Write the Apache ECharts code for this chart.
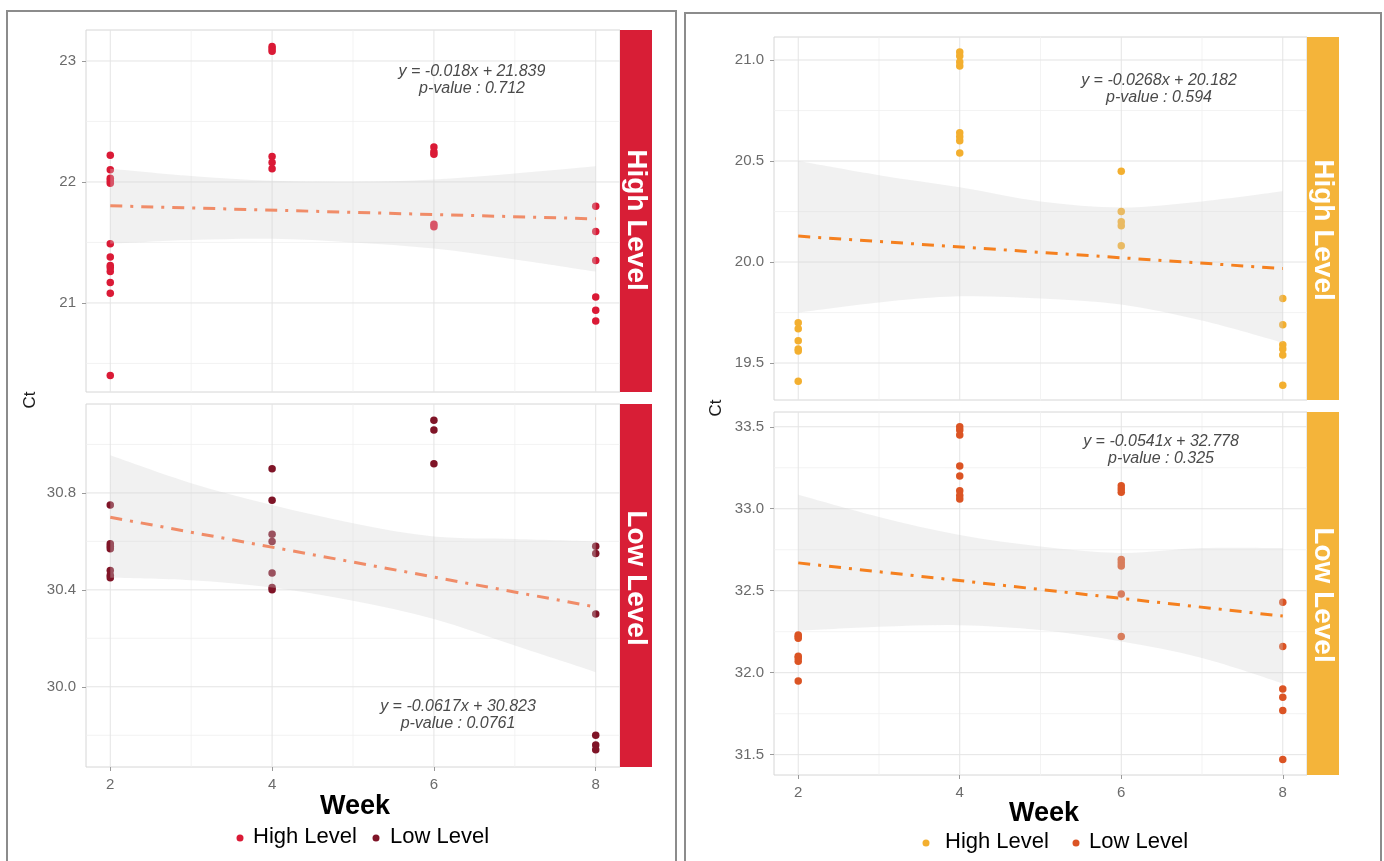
<!DOCTYPE html>
<html>
<head>
<meta charset="utf-8">
<script src="https://cdn.jsdelivr.net/npm/echarts@6/dist/echarts.min.js"></script>
<style>html,body{margin:0;padding:0;background:#fff}#c{width:1384px;height:861px}</style>
</head>
<body>
<div id="c"></div>
<script>
// ---------------- DATA ----------------
const weeks = [2, 4, 6, 8];
const bandX = [2, 3, 4, 5, 6, 7, 8];

// Left panel, High Level facet (Ct by week)
const leftHigh = {
  2: [22.22, 22.10, 22.03, 22.01, 21.99, 21.49, 21.38, 21.31, 21.29, 21.26, 21.17, 21.08, 20.40],
  4: [23.12, 23.10, 23.08, 22.21, 22.16, 22.11],
  6: [22.29, 22.25, 22.23, 21.65, 21.63],
  8: [21.80, 21.59, 21.35, 21.05, 20.94, 20.85]
};
// Left panel, Low Level facet
const leftLow = {
  2: [30.75, 30.59, 30.58, 30.57, 30.48, 30.46, 30.45],
  4: [30.90, 30.77, 30.63, 30.60, 30.47, 30.41, 30.40],
  6: [31.10, 31.06, 30.92],
  8: [30.58, 30.55, 30.30, 29.80, 29.76, 29.74]
};
// Right panel, High Level facet
const rightHigh = {
  2: [19.70, 19.67, 19.61, 19.57, 19.56, 19.41],
  4: [21.04, 21.02, 20.99, 20.97, 20.64, 20.62, 20.60, 20.54],
  6: [20.45, 20.25, 20.20, 20.18, 20.08],
  8: [19.82, 19.69, 19.59, 19.57, 19.54, 19.39]
};
// Right panel, Low Level facet
const rightLow = {
  2: [32.23, 32.22, 32.21, 32.10, 32.09, 32.07, 31.95],
  4: [33.50, 33.48, 33.45, 33.26, 33.20, 33.11, 33.08, 33.06],
  6: [33.14, 33.12, 33.10, 32.69, 32.67, 32.65, 32.48, 32.22],
  8: [32.43, 32.16, 31.90, 31.85, 31.77, 31.47]
};

// Regression fits (slope, intercept, p-value) as printed
const fitSlope = [-0.018, -0.0617, -0.0268, -0.0541];
const fitIntercept = [21.839, 30.823, 20.182, 32.778];
const fitP = ['0.712', '0.0761', '0.594', '0.325'];

// Confidence bands read at weeks 2..8
const bandUpper = [
  [22.11, 22.05, 22.01, 22.00, 22.02, 22.07, 22.13],
  [30.955, 30.84, 30.75, 30.675, 30.62, 30.61, 30.60],
  [20.50, 20.43, 20.37, 20.30, 20.27, 20.30, 20.35],
  [33.085, 32.95, 32.84, 32.77, 32.73, 32.76, 32.76]
];
const bandLower = [
  [21.49, 21.52, 21.53, 21.50, 21.45, 21.36, 21.26],
  [30.45, 30.44, 30.41, 30.355, 30.28, 30.17, 30.06],
  [19.75, 19.80, 19.83, 19.82, 19.79, 19.71, 19.60],
  [32.255, 32.28, 32.29, 32.26, 32.19, 32.09, 31.935]
];

// Axis ticks
const xTicks = [2, 4, 6, 8];
const xMinor = [3, 5, 7];
const yTicks = [[21, 22, 23], [30.0, 30.4, 30.8], [19.5, 20.0, 20.5, 21.0], [31.5, 32.0, 32.5, 33.0, 33.5]];
const yMinor = [[20.5, 21.5, 22.5], [29.8, 30.2, 30.6, 31.0], [19.75, 20.25, 20.75], [31.75, 32.25, 32.75, 33.25]];
const yDecimals = [0, 1, 1, 1];
const yRange = [[20.264, 23.256], [29.669, 31.167], [19.317, 21.114], [31.376, 33.59]];
const xRange = [1.7, 8.3];

const stripLabels = ['High Level', 'Low Level', 'High Level', 'Low Level'];
const legendLabels = ['High Level', 'Low Level'];

// ---------------- STYLE ----------------
const FONT = 'Liberation Sans, Arial, sans-serif';
const pointColors = ['#DA1A36', '#7F1427', '#F3AF2F', '#DB5424'];
const fitColors = ['#F08C68', '#F08C68', '#F5801F', '#F5801F'];
const stripColors = ['#D81E36', '#D81E36', '#F4B43A', '#F4B43A'];
const grids = [
  {left: 86, top: 30, width: 534, height: 362},
  {left: 86, top: 404, width: 534, height: 363},
  {left: 774, top: 37, width: 533, height: 363},
  {left: 774, top: 412, width: 533, height: 363}
];
const showX = [false, true, false, true];
const facetData = [leftHigh, leftLow, rightHigh, rightLow];

// Catmull-Rom through pixel points -> SVG cubic segments
function crSegments(p) {
  let d = '';
  for (let k = 0; k < p.length - 1; k++) {
    const p0 = p[Math.max(k - 1, 0)], p1 = p[k], p2 = p[k + 1], p3 = p[Math.min(k + 2, p.length - 1)];
    const c1 = [p1[0] + (p2[0] - p0[0]) / 6, p1[1] + (p2[1] - p0[1]) / 6];
    const c2 = [p2[0] - (p3[0] - p1[0]) / 6, p2[1] - (p3[1] - p1[1]) / 6];
    d += ' C' + c1[0] + ',' + c1[1] + ' ' + c2[0] + ',' + c2[1] + ' ' + p2[0] + ',' + p2[1];
  }
  return d;
}

const option = {
  animation: false,
  backgroundColor: '#ffffff',
  grid: grids.map(g => Object.assign({show: true, borderColor: '#D6D6D6', borderWidth: 1, backgroundColor: 'transparent'}, g)),
  xAxis: grids.map((g, i) => ({
    type: 'value', gridIndex: i, min: xRange[0], max: xRange[1],
    axisLine: {show: false},
    splitLine: {show: false},
    axisTick: {show: showX[i], customValues: xTicks, length: 4, lineStyle: {color: '#9a9a9a'}},
    axisLabel: {show: showX[i], customValues: xTicks, margin: 10, color: '#6b6b6b', fontSize: 15, fontFamily: FONT}
  })),
  yAxis: grids.map((g, i) => ({
    type: 'value', gridIndex: i, min: yRange[i][0], max: yRange[i][1],
    axisLine: {show: false},
    splitLine: {show: false},
    axisTick: {show: true, customValues: yTicks[i], length: 4, lineStyle: {color: '#9a9a9a'}},
    axisLabel: {customValues: yTicks[i], margin: 10, color: '#6b6b6b', fontSize: 15, fontFamily: FONT,
      formatter: v => Number(v).toFixed(yDecimals[i])}
  })),
  series: [],
  graphic: []
};

for (let i = 0; i < 4; i++) {
  // grid lines (custom series under everything)
  const gl = [];
  yMinor[i].forEach(v => gl.push([0, v, 0]));
  xMinor.forEach(v => gl.push([1, v, 0]));
  yTicks[i].forEach(v => gl.push([0, v, 1]));
  xTicks.forEach(v => gl.push([1, v, 1]));
  option.series.push({
    type: 'custom', xAxisIndex: i, yAxisIndex: i, z: 1, silent: true,
    data: gl,
    renderItem: function (params, api) {
      const o = api.value(0), v = api.value(1), mj = api.value(2);
      const cs = params.coordSys;
      const style = {stroke: mj ? '#E4E4E4' : '#F0F0F0', lineWidth: mj ? 1 : 0.8};
      if (o === 0) {
        const y = api.coord([xRange[0], v])[1];
        return {type: 'line', shape: {x1: cs.x, y1: y, x2: cs.x + cs.width, y2: y}, style: style};
      } else {
        const x = api.coord([v, yRange[i][0]])[0];
        return {type: 'line', shape: {x1: x, y1: cs.y, x2: x, y2: cs.y + cs.height}, style: style};
      }
    }
  });
  // points
  const pts = [];
  weeks.forEach(w => facetData[i][w].forEach(v => pts.push([w, v])));
  option.series.push({
    type: 'scatter', xAxisIndex: i, yAxisIndex: i, z: 3, data: pts,
    symbolSize: 7.5, itemStyle: {color: pointColors[i], opacity: 1}
  });
  // confidence band (drawn over the points, as in the original)
  const bandRows = bandX.map((x, k) => [x, bandLower[i][k], bandUpper[i][k]]);
  option.series.push({
    type: 'custom', xAxisIndex: i, yAxisIndex: i, z: 4, silent: true,
    data: [0],
    renderItem: function (params, api) {
      const up = bandRows.map(r => api.coord([r[0], r[2]]));
      const lo = bandRows.map(r => api.coord([r[0], r[1]])).reverse();
      const d = 'M' + up[0][0] + ',' + up[0][1] + crSegments(up) +
        ' L' + lo[0][0] + ',' + lo[0][1] + crSegments(lo) + ' Z';
      return {type: 'path', shape: {pathData: d}, style: {fill: 'rgba(210,210,210,0.32)', stroke: null}};
    }
  });
  // regression line
  const xs = [weeks[0], weeks[weeks.length - 1]];
  option.series.push({
    type: 'line', xAxisIndex: i, yAxisIndex: i, z: 5, showSymbol: false, silent: true,
    lineStyle: {color: fitColors[i], width: 3, type: [12, 8, 3, 8], cap: 'butt'},
    data: xs.map(x => [x, fitIntercept[i] + fitSlope[i] * x])
  });
}

// ---------------- GRAPHIC (frames, strips, labels) ----------------
const G = option.graphic;
G.push({type: 'rect', shape: {x: 7, y: 11, width: 669, height: 900}, style: {fill: 'none', stroke: '#8c8c8c', lineWidth: 2}, z: 0});
G.push({type: 'rect', shape: {x: 685, y: 13, width: 696, height: 900}, style: {fill: 'none', stroke: '#8c8c8c', lineWidth: 2}, z: 0});

const stripCenters = [220, 578, 230, 595];
grids.forEach((g, i) => {
  const sx = g.left + g.width;
  G.push({type: 'rect', shape: {x: sx, y: g.top, width: 32, height: g.height}, style: {fill: stripColors[i]}, z: 10});
  G.push({type: 'text', x: sx + 16, y: stripCenters[i], rotation: -Math.PI / 2, z: 11,
    style: {text: stripLabels[i], fill: '#ffffff', font: 'bold 28px ' + FONT, textAlign: 'center', textVerticalAlign: 'middle'}});
});

// annotations
const annPos = [[472, 63], [458, 698], [1159, 72], [1161, 433]];
annPos.forEach((p, i) => {
  const s = fitSlope[i], b = fitIntercept[i];
  G.push({type: 'text', x: p[0], y: p[1], z: 12,
    style: {text: 'y = ' + s + 'x + ' + b.toFixed(3) + '\np-value : ' + fitP[i], fill: '#4a4a4a',
      font: 'italic 16px ' + FONT, textAlign: 'center', textVerticalAlign: 'top', lineHeight: 17}});
});

// axis titles
[[30, 400], [716, 408]].forEach(p => {
  G.push({type: 'text', x: p[0], y: p[1], rotation: Math.PI / 2, z: 12,
    style: {text: 'Ct', fill: '#1a1a1a', font: '17px ' + FONT, textAlign: 'center', textVerticalAlign: 'middle'}});
});
[[355, 807], [1044, 814]].forEach(p => {
  G.push({type: 'text', x: p[0], y: p[1], z: 12,
    style: {text: 'Week', fill: '#000000', font: 'bold 27px ' + FONT, textAlign: 'center', textVerticalAlign: 'middle'}});
});

// legends
const legends = [
  {y: 837, items: [[240, 253, pointColors[0]], [376, 390, pointColors[1]]]},
  {y: 842, items: [[926, 945, pointColors[2]], [1076, 1089, pointColors[3]]]}
];
legends.forEach(L => {
  L.items.forEach((it, k) => {
    G.push({type: 'circle', shape: {cx: it[0], cy: L.y + 1, r: 3.5}, style: {fill: it[2]}, z: 12});
    G.push({type: 'text', x: it[1], y: L.y, z: 12,
      style: {text: legendLabels[k], fill: '#000000', font: '22px ' + FONT, textAlign: 'left', textVerticalAlign: 'middle'}});
  });
});

const chart = echarts.init(document.getElementById('c'), null, {renderer: 'canvas'});
chart.setOption(option);
</script>
</body>
</html>
